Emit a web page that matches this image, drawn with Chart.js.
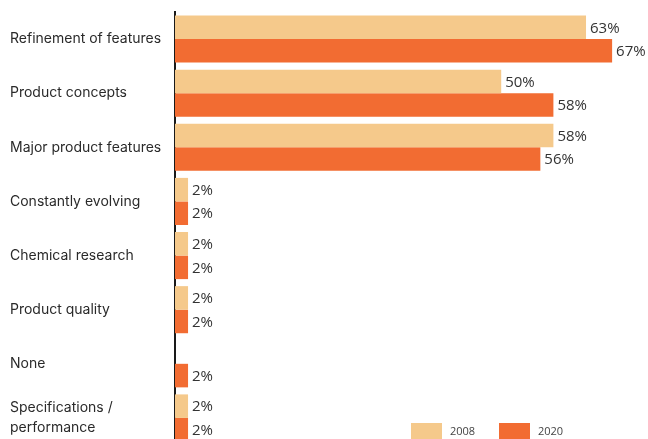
<!DOCTYPE html>
<html>
<head>
<meta charset="utf-8">
<script src="https://cdn.jsdelivr.net/npm/chart.js@4/dist/chart.umd.min.js"></script>
<style>
  html, body { margin: 0; padding: 0; background: #fff; overflow: hidden; }
  #wrap { position: relative; width: 648px; height: 446px; }
</style>
</head>
<body>
<div id="wrap"><canvas id="chart"></canvas></div>
<script>
// ── Data ──────────────────────────────────────────────────────────────
const categories = [
    'Refinement of features',
    'Product concepts',
    'Major product features',
    'Constantly evolving',
    'Chemical research',
    'Product quality',
    'None',
    ['Specifications /', 'performance'],
];
const series2008 = [63, 50, 58, 2, 2, 2, null, 2];
const series2020 = [67, 58, 56, 2, 2, 2, 2, 2];
const seriesNames = ['2008', '2020'];

const LIGHT  = '#f5c98b';
const ORANGE = '#f26c32';

// ── Plugins ───────────────────────────────────────────────────────────

// value labels at bar ends
const valueLabels = {
    id: 'valueLabels',
    afterDatasetsDraw(chart) {
        const ctx = chart.ctx;
        ctx.save();
        ctx.font = '15px "Open Sans", sans-serif';
        ctx.fillStyle = '#333';
        ctx.textAlign = 'left';
        ctx.textBaseline = 'middle';
        chart.data.datasets.forEach((ds, i) => {
            chart.getDatasetMeta(i).data.forEach((bar, j) => {
                const v = ds.data[j];
                if (v == null) return;
                ctx.fillText(v + '%', bar.x + 4, bar.y + 1);
            });
        });
        ctx.restore();
    },
};

// legend bottom right
const boxLegend = {
    id: 'boxLegend',
    afterDraw(chart) {
        const ctx = chart.ctx;
        const xs = [411, 499];
        ctx.save();
        ctx.font = '11px "Open Sans", sans-serif';
        ctx.textBaseline = 'middle';
        ctx.textAlign = 'left';
        chart.data.datasets.forEach((ds, i) => {
            ctx.fillStyle = ds.backgroundColor;
            ctx.fillRect(xs[i], 423, 31, 16);
            ctx.fillStyle = '#444';
            ctx.fillText(ds.label, xs[i] + 39, 432);
        });
        ctx.restore();
    },
};

// ── Chart ─────────────────────────────────────────────────────────────

new Chart(document.getElementById('chart'), {
    type: 'bar',
    data: {
        labels: categories,
        datasets: [
            { label: seriesNames[0], data: series2008, backgroundColor: LIGHT },
            { label: seriesNames[1], data: series2020, backgroundColor: ORANGE },
        ],
    },
    options: {
        indexAxis: 'y',
        responsive: true,
        maintainAspectRatio: false,
        animation: false,
        layout: { padding: { left: 10, top: 12, right: 0, bottom: 1 } },
        datasets: {
            bar: { barPercentage: 1, categoryPercentage: 0.87, borderWidth: 0 },
        },
        plugins: {
            legend:  { display: false },
            tooltip: { enabled: false },
        },
        scales: {
            x: {
                min: 0,
                max: 72.5,
                display: false,
            },
            y: {
                grid:   { display: false },
                border: { display: true, color: '#1a1a1a', width: 2 },
                ticks: {
                    crossAlign: 'far',
                    color: '#2a2a2a',
                    font: { family: 'Inter, sans-serif', size: 14, lineHeight: 1.4 },
                },
                afterFit: s => {
                    s.width = 165;
                    s.paddingTop = 0;
                    s.paddingBottom = 0;
                },
            },
        },
    },
    plugins: [valueLabels, boxLegend],
});
</script>
</body>
</html>
